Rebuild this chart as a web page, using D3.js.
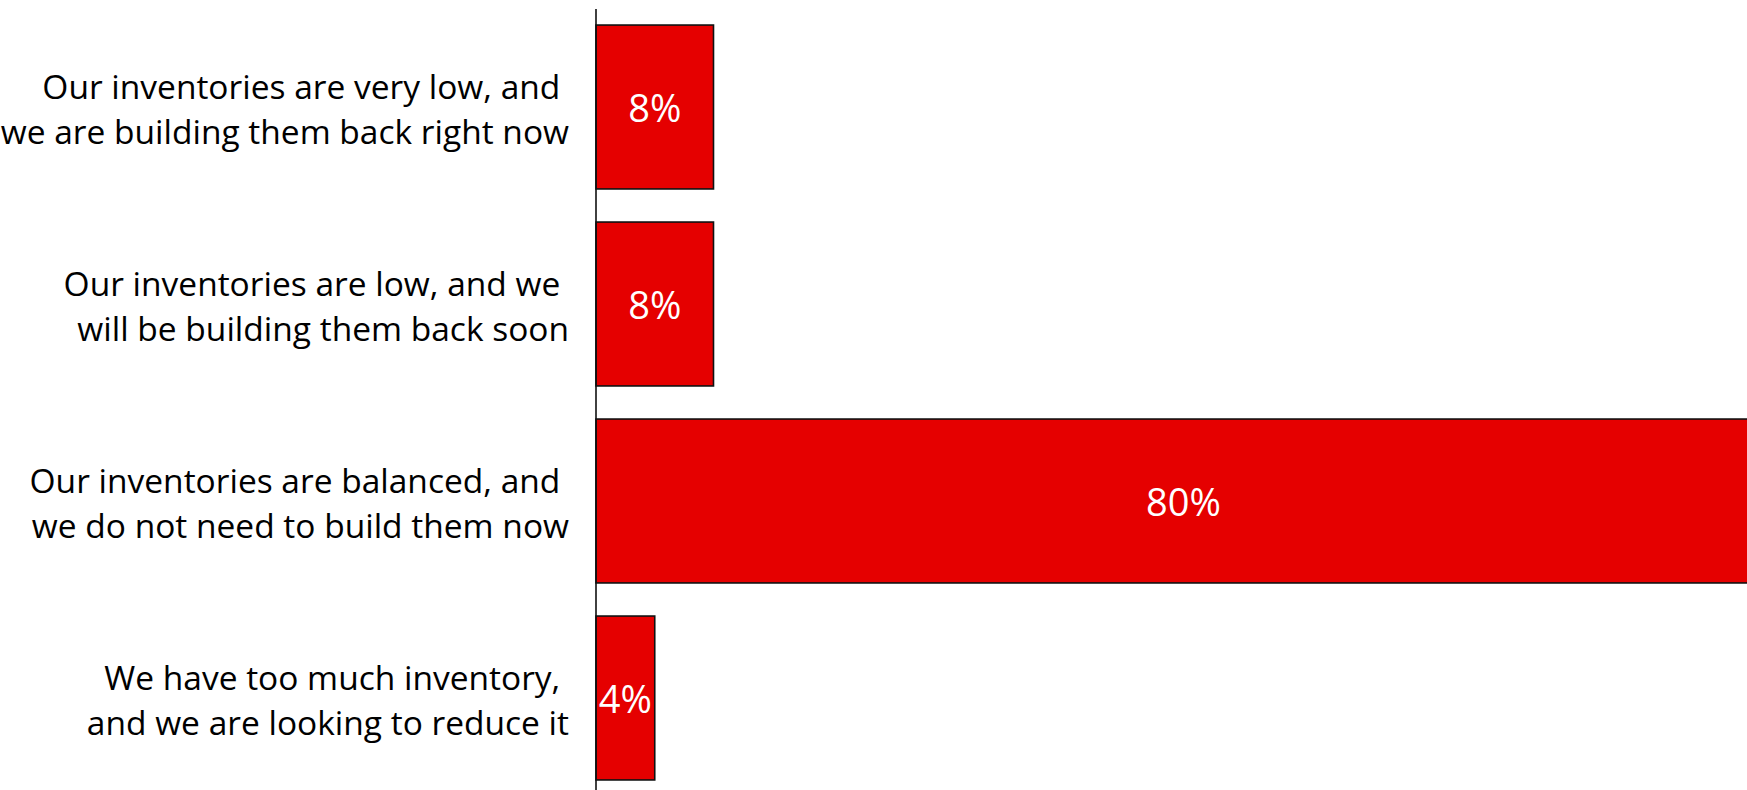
<!DOCTYPE html>
<html>
<head>
<meta charset="utf-8">
<script src="https://cdn.jsdelivr.net/npm/d3@7"></script>
<style>
  html, body { margin: 0; padding: 0; background: #fff; overflow: hidden; }
  svg { display: block; }
</style>
</head>
<body>
<script>
// Survey responses on inventory levels
const categoryLines = [
  ["Our inventories are very low, and", "we are building them back right now"],
  ["Our inventories are low, and we", "will be building them back soon"],
  ["Our inventories are balanced, and", "we do not need to build them now"],
  ["We have too much inventory,", "and we are looking to reduce it"]
];
const categories = categoryLines.map(l => l.join(" "));
const shares = [8, 8, 80, 4];
const valueLabels = ["8%", "8%", "80%", "4%"];

const W = 1747, H = 790;
const axisX = 596;
const font = "'Open Sans', 'Noto Sans', sans-serif";

const svg = d3.select("body").append("svg")
  .attr("width", W).attr("height", H);

const x = d3.scaleLinear().domain([0, 80]).range([axisX, axisX + 1175]);
const y = d3.scaleBand().domain(categories).range([8.5, 796.5])
  .paddingInner(0.168).paddingOuter(0.084);

const data = categories.map((c, i) => ({ c, v: shares[i], label: valueLabels[i], lines: categoryLines[i] }));

// bars
svg.append("g").selectAll("rect").data(data).join("rect")
  .attr("x", x(0))
  .attr("y", d => y(d.c))
  .attr("width", d => x(d.v) - x(0))
  .attr("height", y.bandwidth())
  .attr("fill", "#E50000")
  .attr("stroke", "#111")
  .attr("stroke-width", 1.6);

// value labels inside bars
svg.append("g").selectAll("text").data(data).join("text")
  .attr("x", d => (x(0) + x(d.v)) / 2)
  .attr("y", d => y(d.c) + y.bandwidth() / 2)
  .attr("text-anchor", "middle")
  .attr("dominant-baseline", "central")
  .attr("fill", "#fff")
  .style("font-family", font)
  .style("font-size", "38px")
  .text(d => d.label);

// vertical category axis line, no ticks
const yAxis = d3.axisLeft(y).tickSize(0).tickFormat("");
svg.append("g")
  .attr("transform", `translate(${axisX},0)`)
  .call(yAxis)
  .call(g => g.select(".domain").attr("stroke", "#111").attr("stroke-width", 1.6)
    .attr("d", `M0,9V${H}`));

// two-line category labels, right-aligned to the left of the axis
const lab = svg.append("g").selectAll("text").data(data).join("text")
  .attr("text-anchor", "end")
  .attr("fill", "#000")
  .style("font-family", font)
  .style("font-size", "33.5px")
  .attr("transform", d => `translate(${axisX - 27}, ${y(d.c) + y.bandwidth() / 2})`);

lab.append("tspan")
  .attr("x", 0).attr("y", -21)
  .attr("dominant-baseline", "central")
  .text(d => d.lines[0] + "\u00A0");
lab.append("tspan")
  .attr("x", 0).attr("y", 24)
  .attr("dominant-baseline", "central")
  .text(d => d.lines[1]);
</script>
</body>
</html>
